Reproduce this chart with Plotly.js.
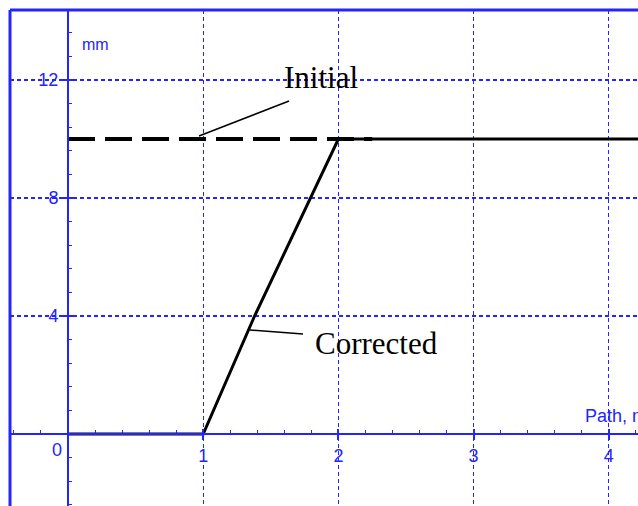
<!DOCTYPE html>
<html>
<head>
<meta charset="utf-8">
<script src="https://cdn.plot.ly/plotly-3.0.1.min.js"></script>
<style>html,body{margin:0;padding:0;background:#fff;overflow:hidden}#chart{width:638px;height:506px}</style>
</head>
<body>
<div id="chart"></div>
<script>
// ---- data ----
const initialX = [0, 2.25];
const initialY = [10, 10];
const correctedX = [0, 1, 1.38, 1.79, 2, 5];
const correctedY = [0, 0, 4, 8, 10, 10];
const xTickVals = [0, 1, 2, 3, 4];
const xTickText = ['', '1', '2', '3', '4'];
const yTickVals = [0, 4, 8, 12];
const yTickText = ['', '4', '8', '12'];
const xAxisLabel = 'Path, m';
const yAxisLabel = 'mm';
const originLabel = '0';
const seriesNames = ['Initial', 'Corrected'];

// ---- style / layout ----
const BLUE = '#2424ff';
const xRange = [-0.429, 4.216];
const yRange = [-2.441, 14.373];
const xPos = (0 - yRange[0]) / (yRange[1] - yRange[0]); // paper fraction of y=0
const yPos = (0 - xRange[0]) / (xRange[1] - xRange[0]); // paper fraction of x=0
const tickFont = {family: 'Liberation Sans, Arial, sans-serif', size: 18, color: BLUE};
const serif = {family: 'Liberation Serif, Times New Roman, serif', size: 31, color: '#000'};

const traces = [
  {x: initialX, y: initialY, mode: 'lines', name: seriesNames[0],
   line: {color: '#000', width: 4, dash: '27px,10px'}, hoverinfo: 'skip'},
  {x: correctedX, y: correctedY, mode: 'lines', name: seriesNames[1],
   line: {color: '#000', width: 3}, hoverinfo: 'skip'},
  {x: correctedX, y: correctedY, mode: 'lines', xaxis: 'x2', yaxis: 'y2',
   line: {color: 'rgba(0,0,0,0)', width: 0}, hoverinfo: 'skip', showlegend: false}
];

const baseX = {
  range: xRange, fixedrange: true, anchor: 'free', position: xPos,
  tickmode: 'array', tickvals: xTickVals, ticktext: xTickText,
  zeroline: false, linecolor: BLUE, tickcolor: BLUE, tickfont: tickFont
};
const baseY = {
  range: yRange, fixedrange: true, anchor: 'free', position: yPos,
  tickmode: 'array', tickvals: yTickVals, ticktext: yTickText,
  zeroline: false, linecolor: BLUE, tickcolor: BLUE, tickfont: tickFont
};

const layout = {
  width: 638, height: 506,
  margin: {l: 10, r: 0, t: 10, b: 0, pad: 0},
  paper_bgcolor: '#fff', plot_bgcolor: '#fff',
  showlegend: false, hovermode: false,
  xaxis: Object.assign({}, baseX, {
    showline: true, linewidth: 2, ticks: 'outside', ticklen: 5, tickwidth: 2,
    showgrid: true, gridcolor: BLUE, gridwidth: 1.2, griddash: '4px,3px',
    minor: {ticks: 'inside', ticklen: 3, tickwidth: 1, tickcolor: BLUE, tickmode: 'linear', tick0: 0, dtick: 0.2, showgrid: false}
  }),
  yaxis: Object.assign({}, baseY, {
    showline: true, linewidth: 2, ticks: 'outside', ticklen: 5, tickwidth: 2,
    showgrid: true, gridcolor: BLUE, gridwidth: 1.2, griddash: '4px,3px',
    minor: {ticks: 'inside', ticklen: 3, tickwidth: 1, tickcolor: BLUE, tickmode: 'linear', tick0: 0, dtick: 0.8, showgrid: false}
  }),
  xaxis2: Object.assign({}, baseX, {overlaying: 'x', showline: false, showgrid: false,
    ticks: 'inside', ticklen: 5, tickwidth: 2, showticklabels: false}),
  yaxis2: Object.assign({}, baseY, {overlaying: 'y', showline: false, showgrid: false,
    ticks: 'inside', ticklen: 5, tickwidth: 2, showticklabels: false}),
  shapes: [
    {type: 'line', xref: 'paper', yref: 'paper', x0: 0, x1: 0, y0: 0, y1: 1, line: {color: BLUE, width: 3}},
    {type: 'line', xref: 'paper', yref: 'paper', x0: 0, x1: 1, y0: 1, y1: 1, line: {color: BLUE, width: 3}},
    {type: 'line', xref: 'x', yref: 'y', x0: 0.969, y0: 10.10, x1: 1.635, y1: 11.29, line: {color: '#000', width: 1.5}},
    {type: 'line', xref: 'x', yref: 'y', x0: 1.346, y0: 3.525, x1: 1.738, y1: 3.39, line: {color: '#000', width: 1.5}}
  ],
  annotations: [
    {text: seriesNames[0], x: 1.868, y: 12.10, xref: 'x', yref: 'y', showarrow: false, font: serif, xanchor: 'center', yanchor: 'middle'},
    {text: seriesNames[1], x: 2.282, y: 3.08, xref: 'x', yref: 'y', showarrow: false, font: serif, xanchor: 'center', yanchor: 'middle'},
    {text: yAxisLabel, x: 0.207, y: 13.19, xref: 'x', yref: 'y', showarrow: false, font: {family: tickFont.family, size: 16, color: BLUE}, xanchor: 'center', yanchor: 'middle'},
    {text: xAxisLabel, x: 3.809, y: 0.61, xref: 'x', yref: 'y', showarrow: false, font: tickFont, xanchor: 'left', yanchor: 'middle'},
    {text: originLabel, x: -0.081, y: -0.54, xref: 'x', yref: 'y', showarrow: false, font: tickFont, xanchor: 'center', yanchor: 'middle'}
  ]
};

Plotly.newPlot('chart', traces, layout, {displayModeBar: false, staticPlot: true});
</script>
</body>
</html>
